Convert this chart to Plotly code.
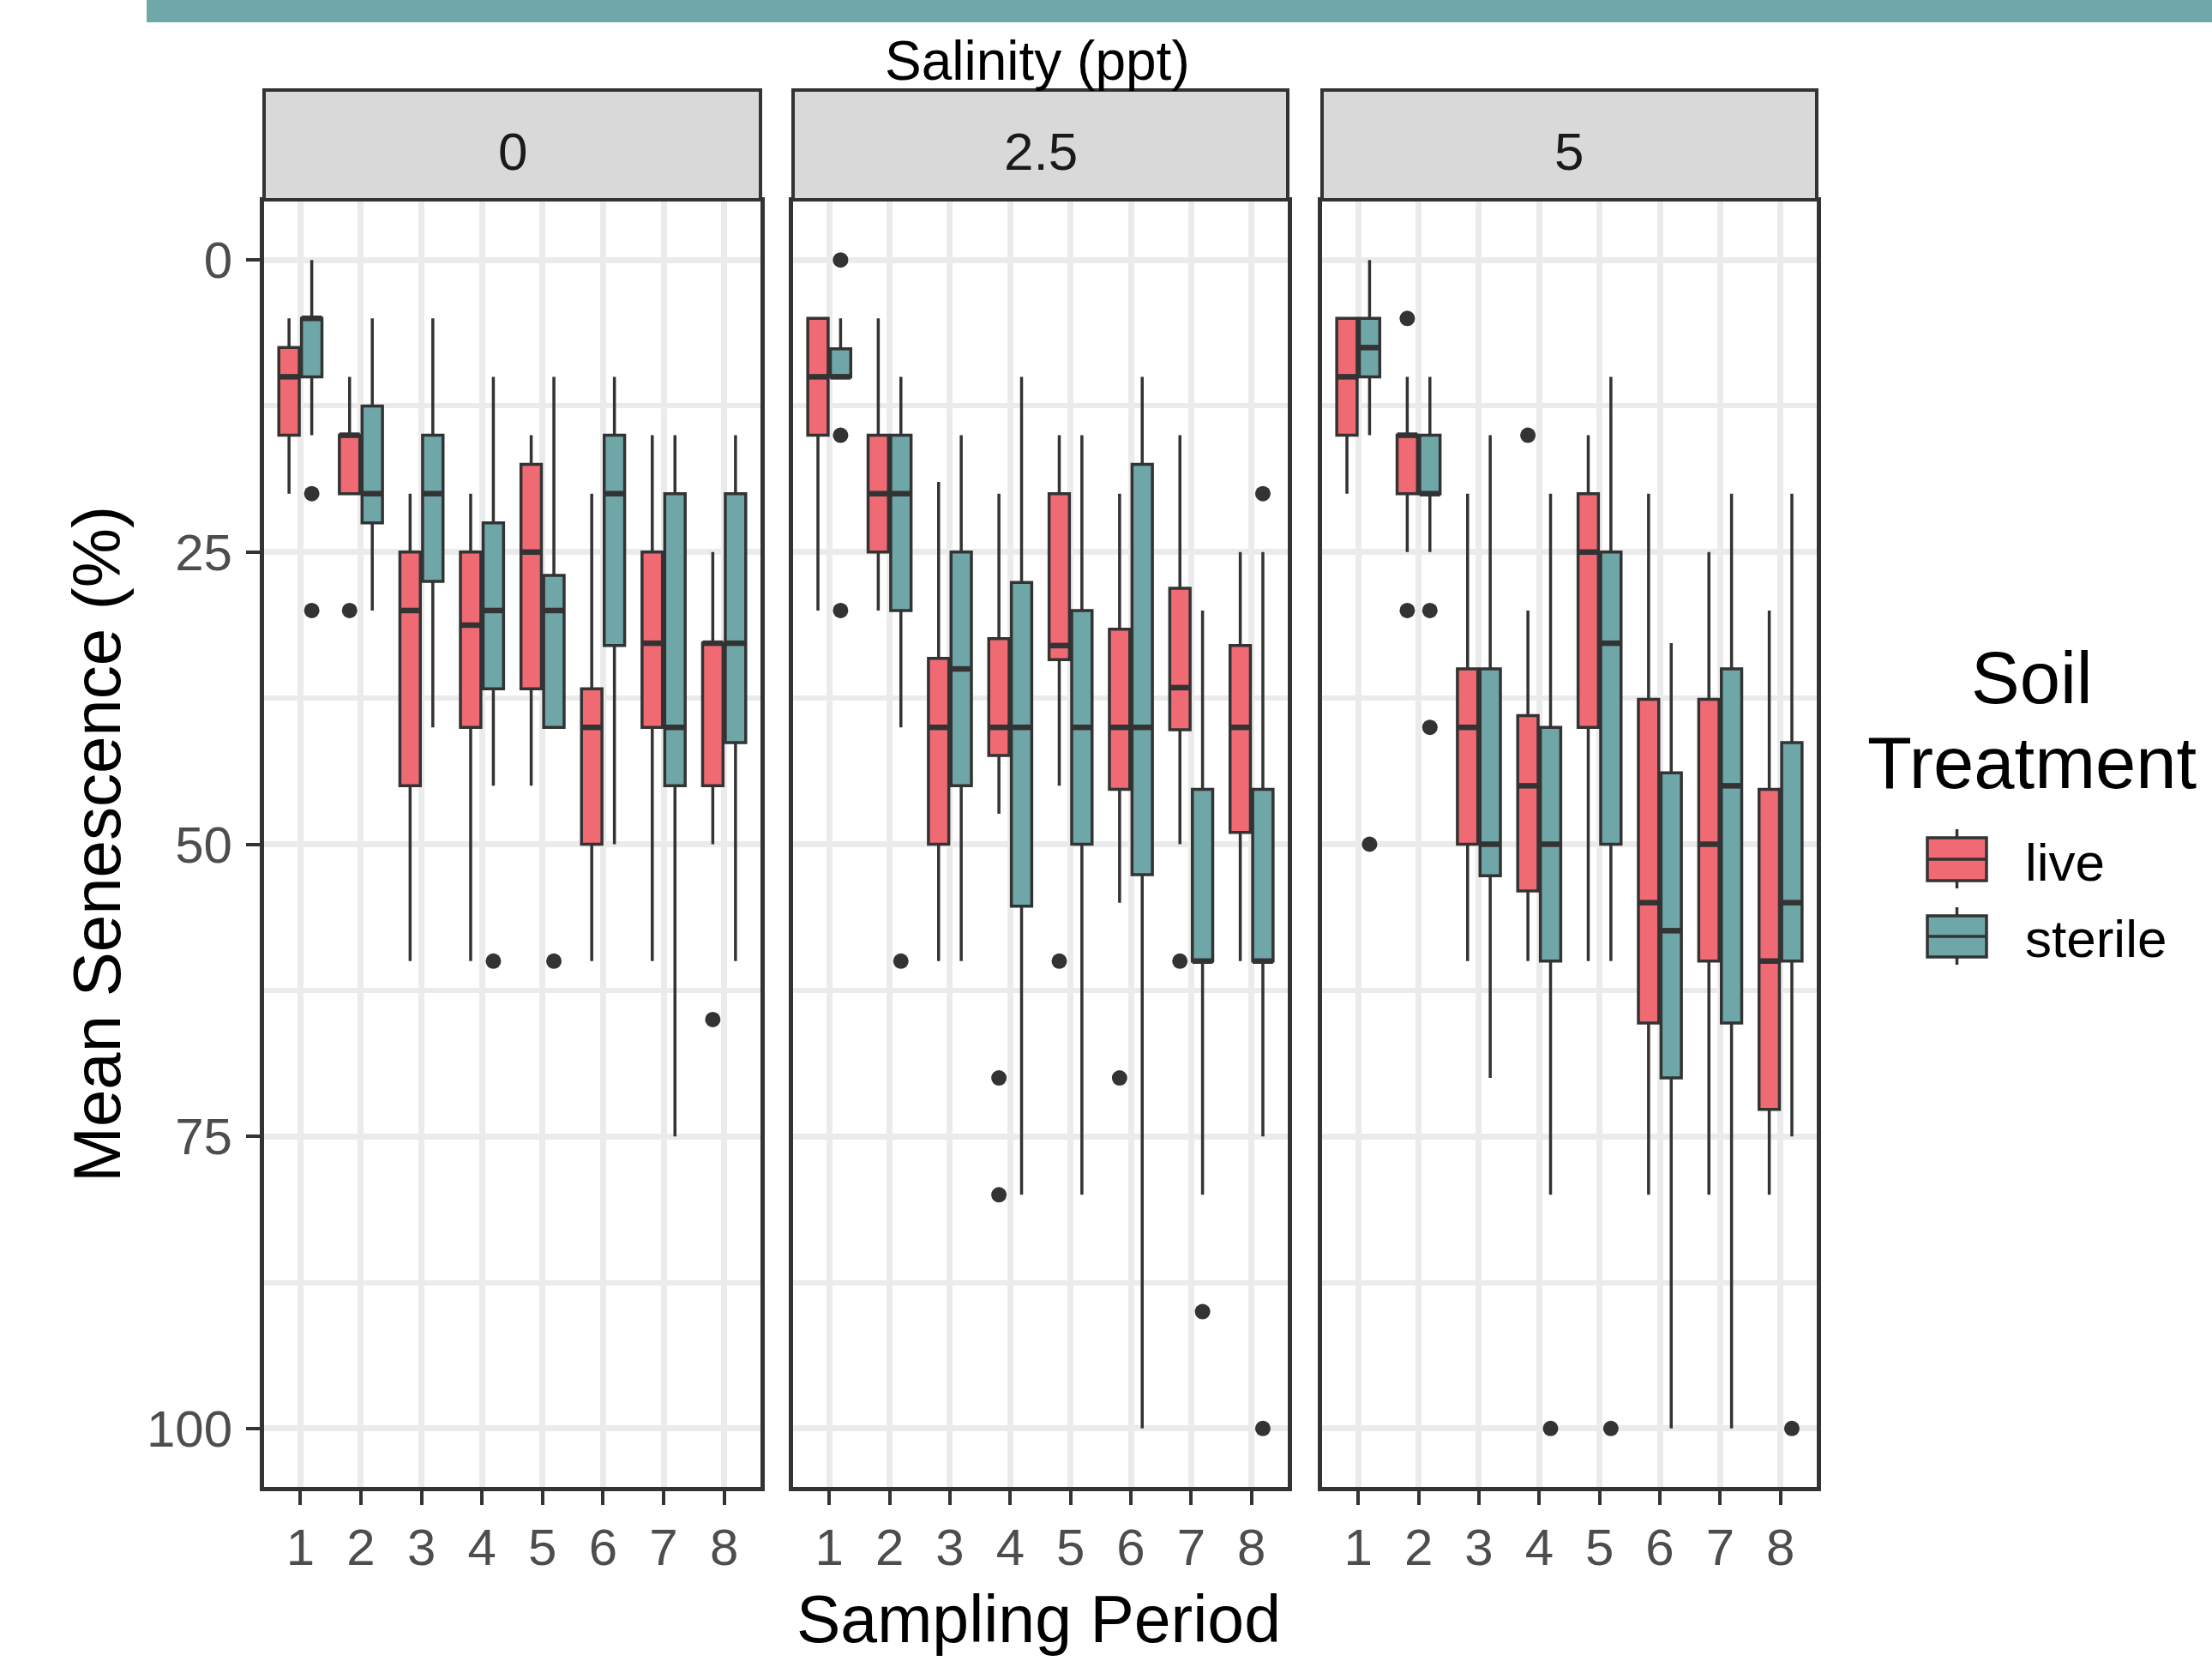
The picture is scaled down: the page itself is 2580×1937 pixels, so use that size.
import plotly.graph_objects as go

# ---------------- data ----------------
periods = ["1", "2", "3", "4", "5", "6", "7", "8"]
salinities = ["0", "2.5", "5"]
treatments = ["live", "sterile"]
y_ticks = [0, 25, 50, 75, 100]

# Salinity 0
live_0_lower = [5, 10, 20, 20, 15, 20, 15, 25]
live_0_q1 = [7.5, 15, 25, 25, 17.5, 36.7, 25, 32.8]
live_0_median = [10, 15, 30, 31.25, 25, 40, 32.8, 32.8]
live_0_q3 = [15, 20, 45, 40, 36.7, 50, 40, 45]
live_0_upper = [20, 20, 60, 60, 45, 60, 60, 50]
live_0_out = [[], [30], [], [], [], [], [], [65]]

sterile_0_lower = [0, 5, 5, 10, 10, 10, 15, 15]
sterile_0_q1 = [5, 12.5, 15, 22.5, 27, 15, 20, 20]
sterile_0_median = [5, 20, 20, 30, 30, 20, 40, 32.8]
sterile_0_q3 = [10, 22.5, 27.5, 36.7, 40, 33, 45, 41.3]
sterile_0_upper = [15, 30, 40, 45, 40, 50, 75, 60]
sterile_0_out = [[20, 30], [], [], [60], [60], [], [], []]

# Salinity 2.5
live_25_lower = [5, 5, 19, 20, 15, 20, 15, 25]
live_25_q1 = [5, 15, 34.1, 32.4, 20, 31.6, 28.1, 33]
live_25_median = [10, 20, 40, 40, 33, 40, 36.6, 40]
live_25_q3 = [15, 25, 50, 42.4, 34.2, 45.3, 40.2, 49]
live_25_upper = [30, 30, 60, 47.4, 45, 55, 50, 60]
live_25_out = [[], [], [], [70, 80], [60], [70], [60], []]

sterile_25_lower = [5, 10, 15, 10, 15, 10, 30, 25]
sterile_25_q1 = [7.6, 15, 25, 27.6, 30, 17.5, 45.3, 45.3]
sterile_25_median = [10, 20, 35, 40, 40, 40, 60, 60]
sterile_25_q3 = [10, 30, 45, 55.3, 50, 52.6, 60, 60]
sterile_25_upper = [10, 40, 60, 80, 80, 100, 80, 75]
sterile_25_out = [[0, 15, 30], [60], [], [], [], [], [90], [20, 100]]

# Salinity 5
live_5_lower = [5, 10, 20, 30, 15, 20, 25, 30]
live_5_q1 = [5, 15, 35, 39, 20, 37.6, 37.6, 45.3]
live_5_median = [10, 15, 40, 45, 25, 55, 50, 60]
live_5_q3 = [15, 20, 50, 54, 40, 65.3, 60, 72.7]
live_5_upper = [20, 25, 60, 60, 60, 80, 80, 80]
live_5_out = [[], [5, 30], [], [15], [], [], [], []]

sterile_5_lower = [0, 10, 15, 20, 10, 32.8, 20, 20]
sterile_5_q1 = [5, 15, 35, 40, 25, 43.9, 35, 41.3]
sterile_5_median = [7.5, 20, 50, 50, 32.8, 57.4, 45, 55]
sterile_5_q3 = [10, 20, 52.7, 60, 50, 70, 65.3, 60]
sterile_5_upper = [15, 25, 70, 80, 60, 100, 100, 75]
sterile_5_out = [[50], [30, 40], [], [100], [100], [], [], [100]]

stats = {
    ("0", "live"): (live_0_lower, live_0_q1, live_0_median, live_0_q3, live_0_upper, live_0_out),
    ("0", "sterile"): (sterile_0_lower, sterile_0_q1, sterile_0_median, sterile_0_q3, sterile_0_upper, sterile_0_out),
    ("2.5", "live"): (live_25_lower, live_25_q1, live_25_median, live_25_q3, live_25_upper, live_25_out),
    ("2.5", "sterile"): (sterile_25_lower, sterile_25_q1, sterile_25_median, sterile_25_q3, sterile_25_upper, sterile_25_out),
    ("5", "live"): (live_5_lower, live_5_q1, live_5_median, live_5_q3, live_5_upper, live_5_out),
    ("5", "sterile"): (sterile_5_lower, sterile_5_q1, sterile_5_median, sterile_5_q3, sterile_5_upper, sterile_5_out),
}

# ---------------- style ----------------
W, H = 2580, 1937
FONT = "Liberation Sans, Arial, sans-serif"
colors = {"live": "#F06A74", "sterile": "#6FA7A8"}
OUTLINE = "#333333"
GRID = "#EBEBEB"
TEAL_BAR = "#6FA8A9"


def fx(px):
    return px / W


def fy(py):
    return 1 - py / H


panel_px = [(308, 887), (925, 1502), (1542, 2119)]
plot_top, plot_bottom = 235, 1734
strip_top, strip_bottom = 105, 233

fig = go.Figure()

for k, sal in enumerate(salinities):
    xa = "x" if k == 0 else f"x{k + 1}"
    ya = "y" if k == 0 else f"y{k + 1}"
    for tr in treatments:
        lo, q1, med, q3, up, out = stats[(sal, tr)]
        fig.add_trace(go.Box(
            x=periods,
            q1=q1, median=med, q3=q3, lowerfence=lo, upperfence=up,
            name=tr,
            offsetgroup=tr,
            fillcolor=colors[tr],
            line=dict(color=OUTLINE, width=3.5),
            whiskerwidth=0,
            boxpoints=False,
            showlegend=False,
            hoverinfo="skip",
            xaxis=xa, yaxis=ya,
        ))
    for tr in treatments:
        lo, q1, med, q3, up, out = stats[(sal, tr)]
        # thicker median bar (ggplot style)
        fig.add_trace(go.Scatter(
            x=periods, y=med, mode="markers",
            name=tr + " median",
            offsetgroup=tr,
            marker=dict(symbol="line-ew", size=17, color=OUTLINE,
                        line=dict(color=OUTLINE, width=6.5)),
            showlegend=False,
            hoverinfo="skip",
            xaxis=xa, yaxis=ya,
        ))
        out_x = [p for p, vals in zip(periods, out) for _ in vals]
        out_y = [v for vals in out for v in vals]
        fig.add_trace(go.Scatter(
            x=out_x, y=out_y, mode="markers",
            name=tr + " outliers",
            offsetgroup=tr,
            marker=dict(color=OUTLINE, size=18, line=dict(width=0)),
            showlegend=False,
            hoverinfo="skip",
            xaxis=xa, yaxis=ya,
        ))

layout = dict(
    width=W, height=H,
    margin=dict(l=0, r=0, t=0, b=0),
    paper_bgcolor="white", plot_bgcolor="white",
    boxmode="group", boxgap=0.25, boxgroupgap=0.1,
    scattermode="group", scattergap=0.25,
    font=dict(family=FONT),
    showlegend=False,
)

for k in range(3):
    xn = "xaxis" if k == 0 else f"xaxis{k + 1}"
    yn = "yaxis" if k == 0 else f"yaxis{k + 1}"
    x0, x1 = panel_px[k]
    layout[xn] = dict(
        domain=[fx(x0), fx(x1)],
        anchor="y" if k == 0 else f"y{k + 1}",
        type="category", categoryorder="array", categoryarray=periods,
        tickmode="array", tickvals=periods, ticktext=periods,
        range=[-0.6, 7.6],
        showgrid=True, gridcolor=GRID, gridwidth=6.5,
        showline=True, linecolor=OUTLINE, linewidth=5, mirror=True,
        ticks="outside", ticklen=16, tickwidth=4, tickcolor=OUTLINE,
        tickfont=dict(size=60, color="#4D4D4D", family=FONT),
        ticklabelstandoff=-2,
        zeroline=False, fixedrange=True,
    )
    layout[yn] = dict(
        domain=[fy(plot_bottom), fy(plot_top)],
        anchor="x" if k == 0 else f"x{k + 1}",
        range=[105, -5],
        tickmode="array", tickvals=y_ticks, ticktext=[str(v) for v in y_ticks],
        showticklabels=(k == 0),
        ticks="outside" if k == 0 else "", ticklen=16, tickwidth=4, tickcolor=OUTLINE,
        tickfont=dict(size=60, color="#4D4D4D", family=FONT),
        ticklabelstandoff=4,
        showgrid=True, gridcolor=GRID, gridwidth=6.5,
        minor=dict(tickvals=[12.5, 37.5, 62.5, 87.5], showgrid=True, gridcolor=GRID, gridwidth=5.5, ticks=""),
        showline=True, linecolor=OUTLINE, linewidth=5, mirror=True,
        zeroline=False, fixedrange=True,
    )

shapes = []
annotations = []

# top decorative bar
shapes.append(dict(type="rect", xref="paper", yref="paper",
                   x0=fx(171), x1=1.0, y0=fy(26), y1=1.0,
                   fillcolor=TEAL_BAR, line=dict(width=0), layer="above"))

# strips
for k, sal in enumerate(salinities):
    x0, x1 = panel_px[k]
    shapes.append(dict(type="rect", xref="paper", yref="paper",
                       x0=fx(x0), x1=fx(x1), y0=fy(strip_bottom), y1=fy(strip_top),
                       fillcolor="#D9D9D9", line=dict(color=OUTLINE, width=4), layer="above"))
    annotations.append(dict(xref="paper", yref="paper", x=fx((x0 + x1) / 2), y=fy(176),
                            text=sal, showarrow=False, xanchor="center", yanchor="middle",
                            font=dict(size=62, color="#1A1A1A", family=FONT)))

# titles
annotations.append(dict(xref="paper", yref="paper", x=fx(1210), y=fy(71),
                        text="Salinity (ppt)", showarrow=False, xanchor="center", yanchor="middle",
                        font=dict(size=64, color="black", family=FONT)))
annotations.append(dict(xref="paper", yref="paper", x=fx(1211), y=fy(1888),
                        text="Sampling Period", showarrow=False, xanchor="center", yanchor="middle",
                        font=dict(size=77, color="black", family=FONT)))
annotations.append(dict(xref="paper", yref="paper", x=fx(113), y=fy(985),
                        text="Mean Senescence (%)", showarrow=False, textangle=-90,
                        xanchor="center", yanchor="middle",
                        font=dict(size=78, color="black", family=FONT)))

# legend (drawn manually)
annotations.append(dict(xref="paper", yref="paper", x=fx(2370), y=fy(790),
                        text="Soil", showarrow=False, xanchor="center", yanchor="middle",
                        font=dict(size=85, color="black", family=FONT)))
annotations.append(dict(xref="paper", yref="paper", x=fx(2370), y=fy(890),
                        text="Treatment", showarrow=False, xanchor="center", yanchor="middle",
                        font=dict(size=85, color="black", family=FONT)))

legend_rows = [("live", 977, 1027), ("sterile", 1068, 1116)]
kx0, kx1 = 2248, 2317
kxc = (kx0 + kx1) / 2
for tr, by0, by1 in legend_rows:
    shapes.append(dict(type="line", xref="paper", yref="paper", x0=fx(kxc), x1=fx(kxc),
                       y0=fy(by0 - 10), y1=fy(by1 + 9), line=dict(color=OUTLINE, width=3.5)))
    shapes.append(dict(type="rect", xref="paper", yref="paper", x0=fx(kx0), x1=fx(kx1),
                       y0=fy(by1), y1=fy(by0), fillcolor=colors[tr],
                       line=dict(color=OUTLINE, width=3.5)))
    shapes.append(dict(type="line", xref="paper", yref="paper", x0=fx(kx0), x1=fx(kx1),
                       y0=fy((by0 + by1) / 2), y1=fy((by0 + by1) / 2),
                       line=dict(color=OUTLINE, width=3.5)))
    annotations.append(dict(xref="paper", yref="paper", x=fx(2360), y=fy(by1 - 22),
                            text=tr, showarrow=False, xanchor="left", yanchor="middle",
                            font=dict(size=62, color="black", family=FONT)))

layout["shapes"] = shapes
layout["annotations"] = annotations
fig.update_layout(**layout)

fig.write_html(
    "out.html",
    config={"displayModeBar": False},
    post_script="document.body.style.margin='0';document.body.style.overflow='hidden';",
)
